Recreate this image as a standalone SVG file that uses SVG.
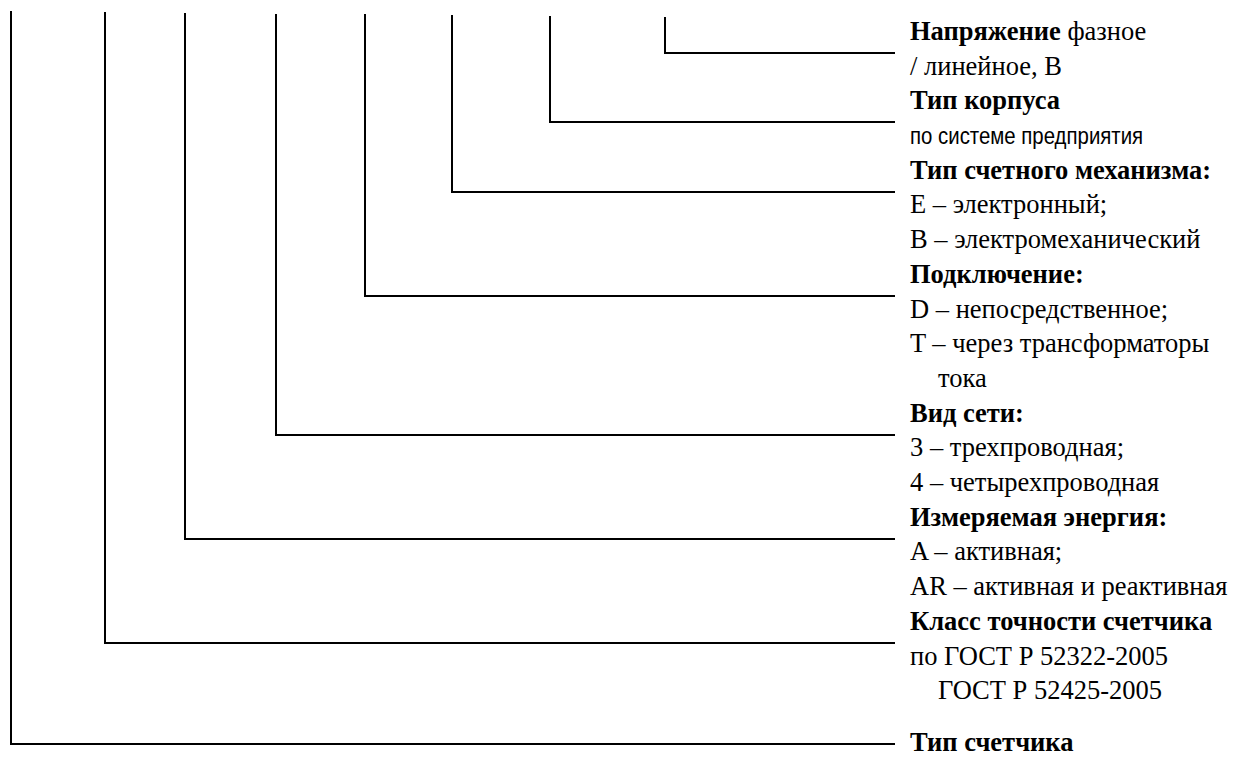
<svg xmlns="http://www.w3.org/2000/svg" width="1242" height="758" viewBox="0 0 1242 758">
<style>
.c{fill:none;stroke:#000;stroke-width:2}
text{font-family:"Liberation Serif","Times New Roman",serif;font-size:26.5px;fill:#000}
.b{font-weight:bold}
.s{font-family:"Liberation Sans",Arial,sans-serif;font-size:24px}
</style>
<rect width="1242" height="758" fill="#fff"/>
<g id="connectors">
<polyline class="c" points="11,11 11,744 895,744"/>
<polyline class="c" points="105,12 105,643 895,643"/>
<polyline class="c" points="185,13 185,539 895,539"/>
<polyline class="c" points="276,14 276,435 895,435"/>
<polyline class="c" points="365,14 365,296 895,296"/>
<polyline class="c" points="452,15 452,192 895,192"/>
<polyline class="c" points="550,16 550,122 895,122"/>
<polyline class="c" points="665,17 665,53 895,53"/>
</g>
<g id="n-voltage"><text x="910" y="40"><tspan class="b">Напряжение</tspan> фазное</text><text x="910" y="75">/ линейное, В</text></g>
<g id="n-case"><text x="910" y="109" class="b">Тип корпуса</text><text class="s" transform="translate(910,144) scale(0.85,1)">по системе предприятия</text></g>
<g id="n-mech"><text x="910" y="179" class="b">Тип счетного механизма:</text><text x="910" y="213">E – электронный;</text><text x="910" y="248">B – электромеханический</text></g>
<g id="n-conn"><text x="910" y="283" class="b">Подключение:</text><text x="910" y="318">D – непосредственное;</text><text x="910" y="352">T – через трансформаторы</text><text x="938" y="387">тока</text></g>
<g id="n-net"><text x="910" y="422" class="b">Вид сети:</text><text x="910" y="456">3 – трехпроводная;</text><text x="910" y="491">4 – четырехпроводная</text></g>
<g id="n-energy"><text x="910" y="526" class="b">Измеряемая энергия:</text><text x="910" y="560">A – активная;</text><text x="910" y="595">AR – активная и реактивная</text></g>
<g id="n-class"><text x="910" y="630" class="b">Класс точности счетчика</text><text x="910" y="665">по ГОСТ Р 52322-2005</text><text x="938" y="699">ГОСТ Р 52425-2005</text></g>
<g id="n-type"><text x="910" y="751" class="b">Тип счетчика</text></g>
</svg>
